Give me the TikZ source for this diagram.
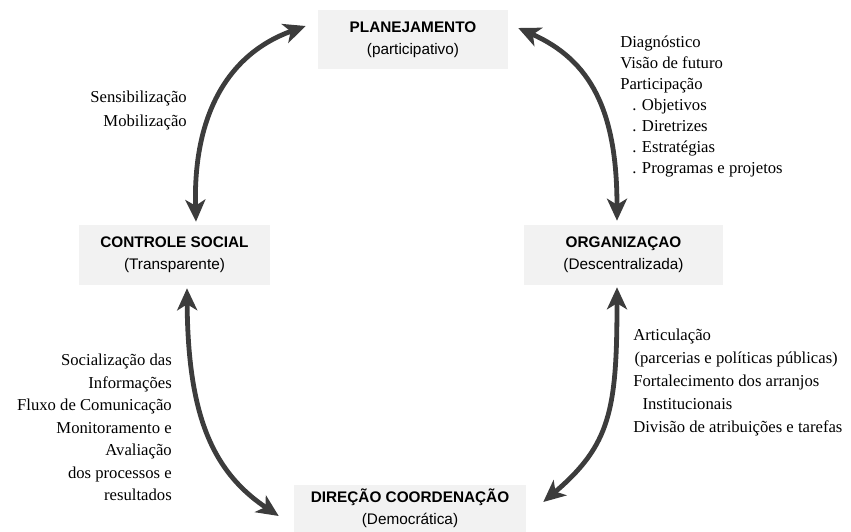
\documentclass[tikz,border=0pt]{standalone}
\usepackage{fontspec}
\setmainfont{Liberation Serif}
\setsansfont{Liberation Sans}
\usetikzlibrary{arrows.meta}
\definecolor{boxgray}{RGB}{242,242,242}
\definecolor{arrowgray}{RGB}{60,60,60}

\begin{document}
\begin{tikzpicture}[x=0.75pt,y=-0.75pt,
  stage/.style={rectangle, fill=boxgray, inner sep=0pt, align=center,
    font=\sffamily\fontsize{11.5}{16.5}\selectfont},
  note/.style={inner sep=0pt},
  cycle arrow/.style={draw=arrowgray, line width=3.6pt,
    {Stealth[length=16.5pt,width=15pt,inset=4.5pt]}-{Stealth[length=16.5pt,width=15pt,inset=4.5pt]}}]
  \useasboundingbox (0,0) rectangle (851,532);

  %stages
  \node[stage, minimum width=142.5pt, minimum height=44.25pt] (plan) at (413,39.5)
    {{\bfseries PLANEJAMENTO}\\(participativo)};
  \node[stage, minimum width=143.25pt, minimum height=45pt] (ctrl) at (174.5,255)
    {{\bfseries CONTROLE SOCIAL}\\(Transparente)};
  \node[stage, minimum width=149.25pt, minimum height=45pt] (org) at (623.5,255)
    {{\bfseries ORGANIZAÇAO}\\(Descentralizada)};
  \node[stage, minimum width=174pt, minimum height=35.25pt] (dir) at (410,508.5)
    {{\bfseries DIREÇÃO COORDENAÇÃO}\\(Democrática)};

  %cycle
  \draw[cycle arrow] ([shift={(21.5,-3)}]ctrl.north)
    .. controls +(-3,-102) and +(-81,29) .. ([shift={(-12,-13.5)}]plan.west);
  \draw[cycle arrow] ([shift={(10,-11.5)}]plan.east)
    .. controls +(72,32) and +(0,-111) .. ([shift={(-6.5,-4)}]org.north);
  \draw[cycle arrow] ([shift={(12.5,3)}]ctrl.south)
    .. controls +(1,122) and +(-69,-46) .. ([shift={(-15,7.5)}]dir.west);
  \draw[cycle arrow] ([shift={(-6.5,2)}]org.south)
    .. controls +(0,123) and +(67,-57) .. ([shift={(17,-6.5)}]dir.east);

  %notes
  \node[note, anchor=east, align=right, font=\fontsize{12.5}{18}\selectfont] (sens) at (187,110)
    {Sensibilização\\Mobilização};
  \node[note, anchor=west, align=left, font=\fontsize{12.5}{15.75}\selectfont] (diag) at (620,107)
    {Diagnóstico\\Visão de futuro\\Participação\\
     \hspace*{9pt}. Objetivos\\\hspace*{9pt}. Diretrizes\\
     \hspace*{9pt}. Estratégias\\\hspace*{9pt}. Programas e projetos};
  \node[note, anchor=east, align=right, font=\fontsize{12.5}{16.9}\selectfont] (soc) at (172,427.5)
    {Socialização das\\Informações\\Fluxo de Comunicação\\Monitoramento e\\
     Avaliação\\dos processos e\\resultados};
  \node[note, anchor=west, align=left, font=\fontsize{12.5}{17.25}\selectfont] (art) at (633,382)
    {Articulação\\\hspace*{1pt}(parcerias e políticas públicas)\\
     Fortalecimento dos arranjos\\\hspace*{7pt}Institucionais\\
     Divisão de atribuições e tarefas};
\end{tikzpicture}
\end{document}
